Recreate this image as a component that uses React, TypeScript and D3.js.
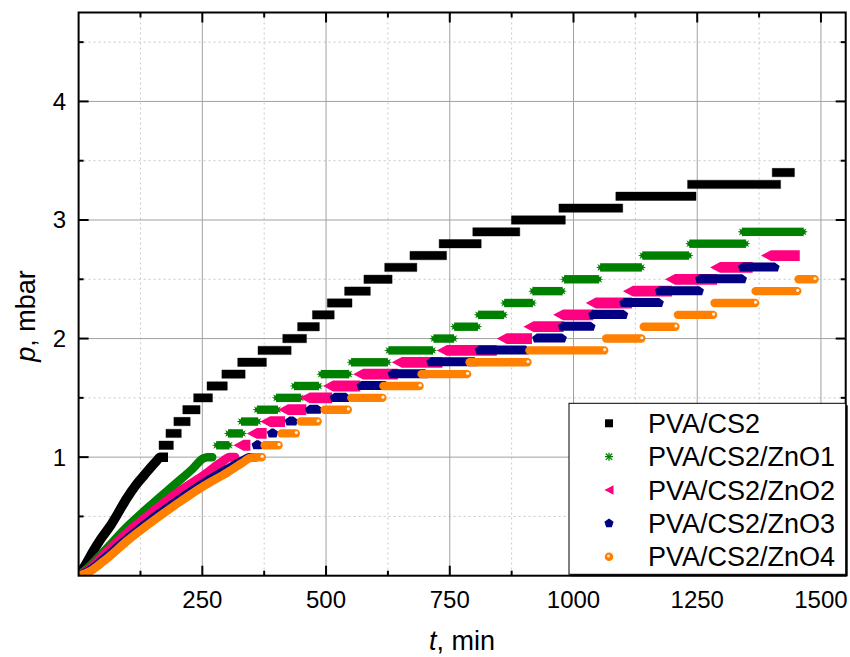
import React from 'react';
import * as d3 from 'd3';

type Pt = [number, number];
type Step = [number, number, number]; // [p (mbar), first t (min), last t (min)]

// ---------- data ----------
const seriesNames = ['PVA/CS2', 'PVA/CS2/ZnO1', 'PVA/CS2/ZnO2', 'PVA/CS2/ZnO3', 'PVA/CS2/ZnO4'];
const seriesColors = ['#000000', '#008000', '#FF0080', '#000080', '#FF8000'];

const xTicks = [250, 500, 750, 1000, 1250, 1500];
const xMinorTicks = [125, 375, 625, 875, 1125, 1375];
const yTicks = [1, 2, 3, 4];
const yMinorTicks = [0.5, 1.5, 2.5, 3.5, 4.5];

// continuous rise 0 -> 1 mbar
const curveCS2: Pt[] = [[0, 0], [15, 0.1], [30, 0.21], [45, 0.31], [64, 0.42], [80, 0.53], [97, 0.65], [115, 0.76], [131, 0.84], [145, 0.91], [158, 0.97], [165, 1.0], [171, 1.0]];
const curveZnO1: Pt[] = [[0, 0], [20, 0.07], [50, 0.2], [100, 0.42], [150, 0.61], [200, 0.79], [230, 0.9], [252, 0.99], [260, 1.0], [270, 1.0]];
const curveZnO2: Pt[] = [[0, 0], [20, 0.05], [50, 0.17], [100, 0.37], [150, 0.54], [200, 0.7], [250, 0.84], [290, 0.96], [305, 1.0], [316, 1.0]];
const curveZnO3: Pt[] = [[0, 0], [20, 0.04], [50, 0.14], [100, 0.32], [150, 0.485], [200, 0.635], [250, 0.775], [300, 0.9], [335, 0.98], [345, 1.0], [358, 1.0]];
const curveZnO4: Pt[] = [[0, 0], [20, 0.03], [50, 0.12], [100, 0.3], [150, 0.46], [200, 0.61], [250, 0.75], [300, 0.87], [330, 0.95], [345, 0.99], [355, 1.0], [370, 1.0]];

// quantised plateaus above 1 mbar
const stepsCS2: Step[] = [[1.1, 171, 183], [1.2, 185, 199], [1.3, 201, 217], [1.4, 219, 237], [1.5, 241, 262], [1.6, 268, 292], [1.7, 298, 328], [1.8, 330, 371], [1.9, 371, 421], [2.0, 421, 452], [2.1, 451, 478], [2.2, 481, 508], [2.3, 511, 544], [2.4, 546, 581], [2.5, 585, 625], [2.6, 627, 675], [2.7, 678, 735], [2.8, 737, 805], [2.9, 805, 883], [3.0, 883, 975], [3.1, 979, 1091], [3.2, 1094, 1239], [3.3, 1239, 1410], [3.4, 1410, 1438]];
const stepsZnO1: Step[] = [[1.1, 279, 304], [1.2, 303, 331], [1.3, 329, 362], [1.4, 361, 402], [1.5, 400, 448], [1.6, 436, 485], [1.7, 490, 546], [1.8, 551, 624], [1.9, 627, 715], [2.0, 718, 758], [2.1, 760, 806], [2.2, 808, 859], [2.3, 861, 917], [2.4, 918, 977], [2.5, 982, 1051], [2.6, 1055, 1137], [2.7, 1140, 1233], [2.8, 1235, 1348], [2.9, 1341, 1464]];
const stepsZnO2: Step[] = [[1.1, 323, 337], [1.2, 350, 370], [1.3, 377, 407], [1.4, 413, 450], [1.5, 457, 502], [1.6, 504, 559], [1.7, 565, 635], [1.8, 643, 725], [1.9, 734, 835], [2.0, 855, 906], [2.1, 909, 970], [2.2, 969, 1030], [2.3, 1035, 1108], [2.4, 1110, 1189], [2.5, 1195, 1280], [2.6, 1286, 1352], [2.7, 1389, 1447]];
const stepsZnO3: Step[] = [[1.1, 359, 364], [1.2, 390, 394], [1.3, 426, 434], [1.4, 467, 483], [1.5, 517, 540], [1.6, 571, 620], [1.7, 634, 700], [1.8, 712, 800], [1.9, 810, 903], [2.0, 926, 977], [2.1, 978, 1035], [2.2, 1039, 1101], [2.3, 1102, 1173], [2.4, 1174, 1254], [2.5, 1255, 1341], [2.6, 1342, 1407]];
const stepsZnO4: Step[] = [[1.1, 376, 404], [1.2, 410, 439], [1.3, 449, 483], [1.4, 497, 544], [1.5, 551, 614], [1.6, 616, 689], [1.7, 693, 785], [1.8, 790, 907], [1.9, 911, 1062], [2.0, 1066, 1137], [2.1, 1142, 1206], [2.2, 1211, 1282], [2.3, 1285, 1367], [2.4, 1368, 1452], [2.5, 1455, 1487]];

const curves = [curveCS2, curveZnO1, curveZnO2, curveZnO3, curveZnO4];
const steps = [stepsCS2, stepsZnO1, stepsZnO2, stepsZnO3, stepsZnO4];
const markerKinds = ['square', 'star', 'triangle', 'pentagon', 'circle'];

// ---------- marker geometry ----------
const squareShape = (r: number): Pt[] => [[-r, -r], [r, -r], [r, r], [-r, r]];
const triShape = (r: number): Pt[] => [[-r, 0], [r, -r * 1.08], [r, r * 1.08]];
const pentShape = (r: number): Pt[] => d3.range(5).map(k => {
  const a = -Math.PI / 2 + k * 2 * Math.PI / 5;
  return [r * Math.cos(a), r * Math.sin(a)] as Pt;
});
const starShape = (ro: number, ri: number): Pt[] => d3.range(16).map(k => {
  const a = -Math.PI / 2 + k * Math.PI / 8;
  const rr = k % 2 === 0 ? ro : ri;
  return [rr * Math.cos(a), rr * Math.sin(a)] as Pt;
});
const polyPath = (pts: Pt[]) => 'M' + pts.map(p => `${p[0].toFixed(2)},${p[1].toFixed(2)}`).join('L') + 'Z';
const shift = (pts: Pt[], dx: number, dy: number): Pt[] => pts.map(p => [p[0] + dx, p[1] + dy] as Pt);
const sweep = (shape: Pt[], xa: number, xb: number, yc: number) =>
  polyPath(d3.polygonHull([...shift(shape, xa, yc), ...shift(shape, xb, yc)]) as Pt[]);

export default function App() {
  const X0 = 78.6, X1 = 845.7, Y0 = 575.7, Y1 = 12.5;
  const x = d3.scaleLinear().domain([0, 1550]).range([X0, X1]);
  const y = d3.scaleLinear().domain([0, 4.75]).range([Y0, Y1]);
  const line = d3.line<Pt>().x(d => x(d[0])).y(d => y(d[1])).curve(d3.curveMonotoneX);
  const font = "'Liberation Sans', Arial, Helvetica, sans-serif";

  const curveWidths = [9.5, 8.5, 9, 8.5, 8.5];

  const renderSeries = (i: number) => {
    const color = seriesColors[i];
    const kind = markerKinds[i];
    const els: React.ReactNode[] = [];
    els.push(<path key="c" d={line(curves[i]) || ''} fill="none" stroke={color} strokeWidth={curveWidths[i]}
      strokeLinecap={kind === 'square' ? 'square' : 'round'} strokeLinejoin="round" />);
    const last = curves[i][curves[i].length - 1];
    if (kind === 'circle') {
      els.push(<circle key="ch" cx={x(last[0]) + 0.5} cy={y(last[1]) - 0.8} r={1.6} fill="#fff" opacity={0.9} />);
    }
    steps[i].forEach((s, j) => {
      const [p, t0, t1] = s;
      const xa = x(t0), xb = x(t1), yc = y(p);
      if (kind === 'square') {
        els.push(<path key={'s' + j} d={sweep(squareShape(4.2), xa, xb, yc)} fill={color} stroke={color} strokeWidth={0.4} strokeLinejoin="round" />);
      } else if (kind === 'triangle') {
        els.push(<path key={'s' + j} d={sweep(triShape(5), xa, xb, yc)} fill={color} />);
      } else if (kind === 'pentagon') {
        els.push(<path key={'s' + j} d={sweep(pentShape(5), xa, xb, yc)} fill={color} />);
      } else if (kind === 'circle') {
        els.push(<line key={'s' + j} x1={xa} x2={xb} y1={yc} y2={yc} stroke={color} strokeWidth={8.4} strokeLinecap="round" />);
        els.push(<circle key={'h' + j} cx={xb + 0.5} cy={yc - 0.8} r={1.6} fill="#fff" opacity={0.9} />);
      } else if (kind === 'star') {
        els.push(<rect key={'s' + j} x={xa} y={yc - 4.2} width={Math.max(0, xb - xa)} height={8.4} fill={color} />);
        els.push(<path key={'a' + j} d={polyPath(shift(starShape(4.8, 2.2), xa, yc))} fill={color} />);
        els.push(<path key={'b' + j} d={polyPath(shift(starShape(4.8, 2.2), xb, yc))} fill={color} />);
      }
    });
    return <g key={'ser' + i}>{els}</g>;
  };

  const legendMarker = (i: number, cx: number, cy: number) => {
    const color = seriesColors[i];
    switch (markerKinds[i]) {
      case 'square': return <path d={polyPath(shift(squareShape(4), cx, cy))} fill={color} />;
      case 'star': return (
        <g stroke={color} strokeWidth={1.3}>
          <line x1={cx - 4} x2={cx + 4} y1={cy} y2={cy} />
          <line x1={cx} x2={cx} y1={cy - 4} y2={cy + 4} />
          <line x1={cx - 3.2} x2={cx + 3.2} y1={cy - 3.2} y2={cy + 3.2} />
          <line x1={cx - 3.2} x2={cx + 3.2} y1={cy + 3.2} y2={cy - 3.2} />
        </g>);
      case 'triangle': return <path d={polyPath(shift(triShape(4.5), cx, cy))} fill={color} />;
      case 'pentagon': return <path d={polyPath(shift(pentShape(4.8), cx, cy))} fill={color} />;
      default: return (
        <g>
          <circle cx={cx} cy={cy} r={4.3} fill={color} />
          <circle cx={cx - 0.5} cy={cy - 0.8} r={1.5} fill="#fff" opacity={0.7} />
        </g>);
    }
  };

  const lgX = 569, lgY = 403.3, lgW = 845.7 - 569, lgH = 574.3 - 403.3;
  const rowY = (i: number) => 423.3 + i * 33.35;

  return (
    <svg width={850} height={657} style={{ position: 'absolute', left: 0, top: 0 }} fontFamily={font}>
      <defs>
        <clipPath id="plotClip"><rect x={X0} y={Y1} width={X1 - X0} height={Y0 - Y1} /></clipPath>
      </defs>
      <rect x={0} y={0} width={850} height={657} fill="#fff" />

      {/* grid */}
      <g>
        {xMinorTicks.map(t => <line key={'xm' + t} x1={x(t)} x2={x(t)} y1={Y1} y2={Y0} stroke="#c8c8c8" strokeWidth={1} strokeDasharray="2,3" />)}
        {yMinorTicks.map(t => <line key={'ym' + t} x1={X0} x2={X1} y1={y(t)} y2={y(t)} stroke="#c8c8c8" strokeWidth={1} strokeDasharray="2,3" />)}
        {xTicks.map(t => <line key={'xg' + t} x1={x(t)} x2={x(t)} y1={Y1} y2={Y0} stroke="#a0a0a0" strokeWidth={1} />)}
        {yTicks.map(t => <line key={'yg' + t} x1={X0} x2={X1} y1={y(t)} y2={y(t)} stroke="#a0a0a0" strokeWidth={1} />)}
      </g>

      <g clipPath="url(#plotClip)">
        {[0, 1, 2, 3, 4].map(i => renderSeries(i))}
      </g>

      {/* frame and ticks */}
      <rect x={X0} y={Y1} width={X1 - X0} height={Y0 - Y1} fill="none" stroke="#000" strokeWidth={2} />
      <g stroke="#000" strokeWidth={2}>
        {xTicks.map(t => <g key={'xt' + t}>
          <line x1={x(t)} x2={x(t)} y1={Y0} y2={Y0 - 10} />
          <line x1={x(t)} x2={x(t)} y1={Y1} y2={Y1 + 10} />
        </g>)}
        {xMinorTicks.map(t => <g key={'xmt' + t}>
          <line x1={x(t)} x2={x(t)} y1={Y0} y2={Y0 - 5} />
          <line x1={x(t)} x2={x(t)} y1={Y1} y2={Y1 + 5} />
        </g>)}
        {yTicks.map(t => <g key={'yt' + t}>
          <line x1={X0} x2={X0 + 10} y1={y(t)} y2={y(t)} />
          <line x1={X1} x2={X1 - 10} y1={y(t)} y2={y(t)} />
        </g>)}
        {yMinorTicks.map(t => <g key={'ymt' + t}>
          <line x1={X0} x2={X0 + 5} y1={y(t)} y2={y(t)} />
          <line x1={X1} x2={X1 - 5} y1={y(t)} y2={y(t)} />
        </g>)}
      </g>

      {/* tick labels */}
      <g fontSize={24} fill="#000">
        {xTicks.map(t => <text key={'xl' + t} x={x(t)} y={608} textAnchor="middle">{t}</text>)}
        {yTicks.map(t => <text key={'yl' + t} x={66} y={y(t) + 8.5} textAnchor="end">{t}</text>)}
      </g>

      {/* axis titles */}
      <text x={462} y={650} fontSize={27} textAnchor="middle"><tspan fontStyle="italic">t</tspan>, min</text>
      <text transform="translate(35,316) rotate(-90)" fontSize={27} textAnchor="middle"><tspan fontStyle="italic">p</tspan>, mbar</text>

      {/* legend */}
      <rect x={lgX + 2} y={lgY + 2} width={lgW} height={lgH} fill="#000" />
      <rect x={lgX} y={lgY} width={lgW} height={lgH} fill="#fff" stroke="#000" strokeWidth={1} />
      {seriesNames.map((n, i) => (
        <g key={'lg' + i}>
          {legendMarker(i, 609, rowY(i))}
          <text x={648} y={rowY(i) + 9.5} fontSize={27}>{n}</text>
        </g>
      ))}
    </svg>
  );
}
